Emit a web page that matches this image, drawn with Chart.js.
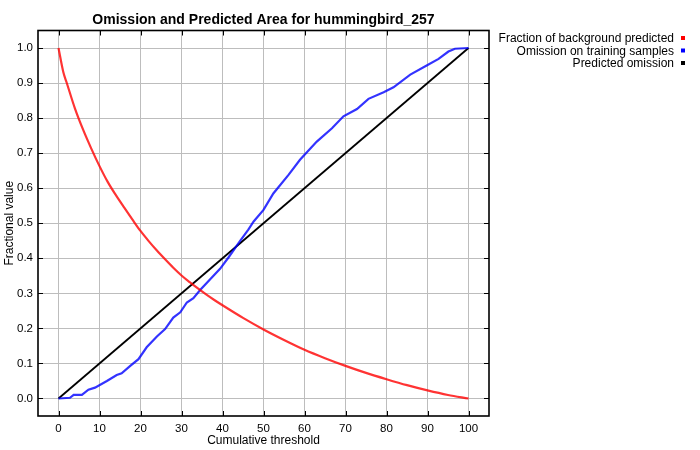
<!DOCTYPE html>
<html><head><meta charset="utf-8">
<script src="https://cdn.jsdelivr.net/npm/chart.js@4.4.0/dist/chart.umd.min.js"></script>
<style>html,body{margin:0;padding:0;background:#fff}#wrap{width:700px;height:450px}</style>
</head><body><div id="wrap"><canvas id="c" width="700" height="450"></canvas></div>
<script>
const chartTitle = 'Omission and Predicted Area for hummingbird_257';
const xAxisTitle = 'Cumulative threshold';
const yAxisTitle = 'Fractional value';
const seriesLabels = ['Fraction of background predicted', 'Omission on training samples', 'Predicted omission'];
const xTicks = [0, 10, 20, 30, 40, 50, 60, 70, 80, 90, 100];
const yTicks = [0, 0.1, 0.2, 0.3, 0.4, 0.5, 0.6, 0.7, 0.8, 0.9, 1.0];

const redX = [0, 1.2, 2, 4, 6, 8, 10, 12, 14, 16, 18, 20, 22, 24, 26, 28, 30, 32, 34, 36, 38, 40, 45, 50, 55, 60, 65, 70, 75, 80, 85, 90, 95, 100];
const redY = [1.0, 0.93, 0.901, 0.828, 0.767, 0.713, 0.663, 0.618, 0.58, 0.545, 0.511, 0.478, 0.449, 0.422, 0.397, 0.373, 0.351, 0.332, 0.314, 0.297, 0.281, 0.266, 0.23, 0.197, 0.167, 0.139, 0.115, 0.093, 0.073, 0.055, 0.038, 0.023, 0.01, 0.0];

const blueX = [0, 2.8, 3.7, 5.7, 7.3, 8.9, 11.8, 14.2, 15.4, 17.5, 19.5, 21.5, 24, 26, 28, 29.7, 31.3, 32.9, 34.6, 37, 39.4, 41.5, 44.3, 46.3, 47.6, 50, 52.4, 56.1, 58.9, 63, 66.7, 69.5, 72.8, 75.6, 79.3, 81.7, 85.8, 89.8, 92.7, 95.1, 96.7, 100];
const blueY = [0, 0.002, 0.01, 0.01, 0.025, 0.031, 0.05, 0.067, 0.072, 0.093, 0.112, 0.146, 0.177, 0.198, 0.231, 0.246, 0.274, 0.286, 0.31, 0.34, 0.37, 0.403, 0.45, 0.482, 0.505, 0.538, 0.585, 0.638, 0.681, 0.733, 0.771, 0.805, 0.826, 0.855, 0.874, 0.888, 0.924, 0.95, 0.969, 0.99, 0.998, 1.0];

const blackX = [0, 100];
const blackY = [0, 1];

const lineColors = ['rgba(255,0,0,0.8)', 'rgba(0,0,255,0.8)', '#000000'];
const legendColors = ['#ff0000', '#0000ff', '#000000'];

const zip = (xs, ys) => xs.map((x, i) => ({x: x, y: ys[i]}));
const FONT = '"Liberation Sans", Arial, Helvetica, sans-serif';

const framePlugin = {
  id: 'frame',
  afterDraw(chart) {
    const {ctx, chartArea: a, scales} = chart;
    ctx.save();
    ctx.strokeStyle = '#000';
    ctx.lineWidth = 1;
    const L = 5;
    ctx.beginPath();
    xTicks.forEach(v => {
      const px = Math.round(scales.x.getPixelForValue(v)) + 0.5;
      ctx.moveTo(px, a.top); ctx.lineTo(px, a.top + L);
      ctx.moveTo(px, a.bottom); ctx.lineTo(px, a.bottom - L);
    });
    yTicks.forEach(v => {
      const py = Math.round(scales.y.getPixelForValue(v)) + 0.5;
      ctx.moveTo(a.left, py); ctx.lineTo(a.left + L, py);
      ctx.moveTo(a.right, py); ctx.lineTo(a.right - L, py);
    });
    ctx.stroke();
    ctx.lineWidth = 1.6;
    ctx.strokeRect(a.left, a.top, a.right - a.left, a.bottom - a.top);
    // legend
    ctx.font = '12px ' + FONT;
    ctx.textAlign = 'right';
    ctx.textBaseline = 'middle';
    seriesLabels.forEach((t, i) => {
      const y = 39 + i * 12.5;
      ctx.fillStyle = '#000';
      ctx.fillText(t, 674, y);
      ctx.fillStyle = legendColors[i];
      ctx.fillRect(681, y - 3, 4, 4);
    });
    ctx.restore();
  }
};

new Chart(document.getElementById('c'), {
  type: 'scatter',
  data: {
    datasets: [
      {label: seriesLabels[0], data: zip(redX, redY), showLine: true, borderColor: lineColors[0], borderWidth: 2.2, pointRadius: 0, cubicInterpolationMode: 'monotone', fill: false},
      {label: seriesLabels[1], data: zip(blueX, blueY), showLine: true, borderColor: lineColors[1], borderWidth: 2.2, pointRadius: 0, tension: 0, fill: false},
      {label: seriesLabels[2], data: zip(blackX, blackY), showLine: true, borderColor: lineColors[2], borderWidth: 1.8, pointRadius: 0, tension: 0, fill: false}
    ]
  },
  options: {
    responsive: false,
    animation: false,
    devicePixelRatio: 1,
    layout: {padding: {left: 0, right: 211, top: 0, bottom: 0}},
    plugins: {
      legend: {display: false},
      tooltip: {enabled: false},
      title: {
        display: true, text: chartTitle, fullSize: false, color: '#000',
        font: {family: FONT, size: 14, weight: 'bold'},
        padding: {top: 12, bottom: 1.7}
      }
    },
    scales: {
      x: {
        type: 'linear', min: -5, max: 105,
        afterBuildTicks: s => { s.ticks = xTicks.map(v => ({value: v})); },
        afterFit: s => { s.height = 34; },
        ticks: {color: '#000', font: {family: FONT, size: 11.5}, padding: 6, maxRotation: 0, autoSkip: false, callback: v => String(v)},
        grid: {color: '#bdbdbd', lineWidth: 1, drawTicks: false},
        border: {display: false},
        title: {display: true, text: xAxisTitle, color: '#000', font: {family: FONT, size: 12}, padding: {top: 0, bottom: 2}}
      },
      y: {
        type: 'linear', min: -0.05, max: 1.05,
        afterBuildTicks: s => { s.ticks = yTicks.map(v => ({value: v})); },
        afterFit: s => { s.width = 38; },
        ticks: {color: '#000', font: {family: FONT, size: 11.5}, padding: 5, autoSkip: false, callback: v => v.toFixed(1)},
        grid: {color: '#bdbdbd', lineWidth: 1, drawTicks: false},
        border: {display: false},
        title: {display: true, text: yAxisTitle, color: '#000', font: {family: FONT, size: 12}, padding: {top: 2, bottom: 0}}
      }
    }
  },
  plugins: [framePlugin]
});
</script>
</body></html>
